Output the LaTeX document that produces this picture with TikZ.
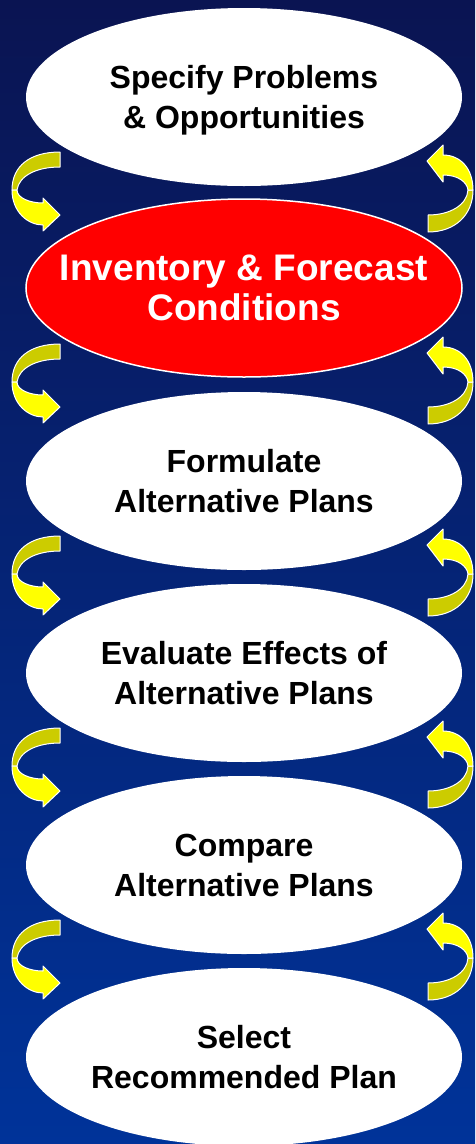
\documentclass[tikz,border=0pt]{standalone}
\usepackage{fontspec}
\setmainfont{Liberation Sans}
\usetikzlibrary{shapes.geometric}
\definecolor{fondoarriba}{RGB}{10,20,82}
\definecolor{fondoabajo}{RGB}{0,51,153}
\definecolor{oliva}{RGB}{204,204,0}
\definecolor{amarillo}{RGB}{255,255,0}
\tikzset{
  paso/.style={ellipse, fill=white, minimum width=436pt, minimum height=178pt,
    inner sep=0pt, text depth=0pt, align=center, font=\bfseries\fontsize{32}{40}\selectfont},
  pasoactivo/.style={paso, fill=red, draw=white, line width=1.5pt, text=white,
    inner xsep=-31pt, font=\bfseries\fontsize{37}{40}\selectfont},
  cinta/.style={draw=white, line width=1pt, line join=round}
}

\begin{document}
\begin{tikzpicture}[x=1pt, y=-1pt]
                % Fondo degradado
                \shade[top color=fondoarriba, bottom color=fondoabajo] (0,0) rectangle (475,1144);
                \useasboundingbox (0,0) rectangle (475,1144);

                % Flechas curvas entre los pasos
                \foreach \k in {0,...,4}{
                  \begin{scope}[yshift=-192*\k]
                    % izquierda: cola arriba, punta abajo
                    \filldraw[cinta, fill=oliva] (60,152) .. controls (30,152) and (12,166) .. (12,190)
                      -- (17,190) .. controls (19,176) and (36,167) .. (60,167) -- cycle;
                    \filldraw[cinta, fill=amarillo] (12,190) .. controls (12,212) and (28,225) .. (43,225)
                      -- (43,231) -- (60,215) -- (43,198) -- (43,203)
                      .. controls (30,203) and (17,198) .. (17,190) -- cycle;
                    % derecha: punta arriba, cola abajo
                    \filldraw[cinta, fill=oliva] (473,190) .. controls (473,215) and (455,232) .. (428,232)
                      -- (428,215) .. controls (450,215) and (467,205) .. (468,190) -- cycle;
                    \filldraw[cinta, fill=amarillo] (473,190) .. controls (473,168) and (460,155) .. (443,155)
                      -- (443,145) -- (427,161) -- (443,182) -- (443,175)
                      .. controls (458,175) and (467,182) .. (468,190) -- cycle;
                  \end{scope}
                }

                % Pasos del proceso
                \node[paso] (especificar) at (244,97) {Specify Problems\\\& Opportunities};
                \node[pasoactivo] (inventario) at (244,288) {Inventory \& Forecast\\Conditions};
                \node[paso] (formular) at (244,481) {Formulate\\Alternative Plans};
                \node[paso] (evaluar) at (244,673) {Evaluate Effects of\\Alternative Plans};
                \node[paso] (comparar) at (244,865) {Compare\\Alternative Plans};
                \node[paso] (seleccionar) at (244,1057) {Select\\Recommended Plan};
\end{tikzpicture}
\end{document}
